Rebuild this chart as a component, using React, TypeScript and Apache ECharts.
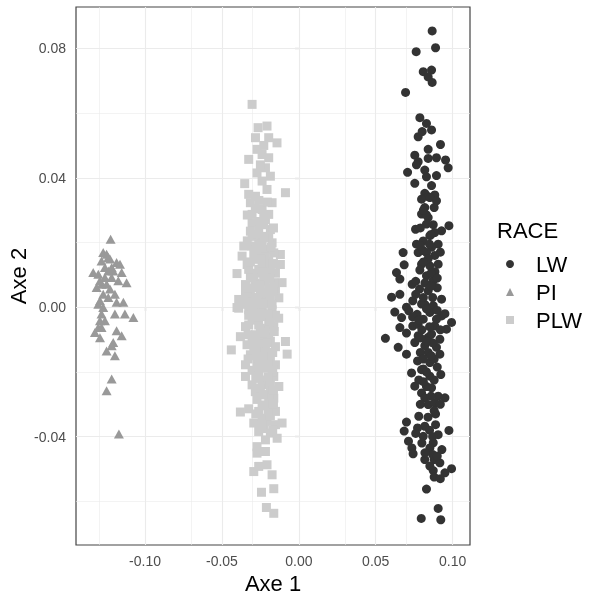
import React, { useEffect, useRef } from "react";
import * as echarts from "echarts";

const FONT = "'Liberation Sans', Arial, sans-serif";

const seriesNames = ["LW", "PI", "PLW"];
const seriesColors = ["#333333", "#999999", "#CCCCCC"];

const xTicks = [-0.1, -0.05, 0, 0.05, 0.1];
const yTicks = [-0.04, 0, 0.04, 0.08];
const xMinor = [-0.125, -0.075, -0.025, 0.025, 0.075];
const yMinor = [-0.06, -0.02, 0.02, 0.06];

const piPoints: [number, number][] = [
  [-0.1224, 0.021], [-0.1272, 0.0169], [-0.125, 0.0164], [-0.1228, 0.0149], [-0.1185, 0.0138],
  [-0.1163, 0.0133], [-0.1283, 0.0143], [-0.1337, 0.0107], [-0.1304, 0.0102], [-0.1261, 0.0123],
  [-0.1239, 0.0112], [-0.1207, 0.0112], [-0.1152, 0.0107], [-0.112, 0.0076], [-0.1174, 0.0082],
  [-0.1217, 0.0092], [-0.1283, 0.0071], [-0.1315, 0.0061], [-0.125, 0.0071], [-0.1228, 0.0056],
  [-0.1196, 0.004], [-0.1239, 0.003], [-0.1293, 0.002], [-0.1304, 0.0009], [-0.1272, -0.0001],
  [-0.1185, 0.0015], [-0.1141, 0.0015], [-0.1196, -0.0021], [-0.1131, -0.0021], [-0.1076, -0.0032],
  [-0.1283, -0.0021], [-0.1293, -0.0042], [-0.1304, -0.0063], [-0.1326, -0.0078], [-0.1293, -0.0094],
  [-0.1185, -0.0073], [-0.1152, -0.0088], [-0.1207, -0.0109], [-0.1217, -0.0119], [-0.125, -0.0135],
  [-0.1196, -0.015], [-0.1217, -0.0222], [-0.125, -0.0258], [-0.117, -0.0392], [-0.1239, 0.0154],
  [-0.1261, 0.0092], [-0.1293, 0.0082], [-0.1272, 0.004], [-0.1261, -0.0042], [-0.1283, -0.0063],
  [-0.1217, 0.0123],
];

const plwPoints: [number, number][] = [
  [-0.0304, 0.0627], [-0.0265, 0.0555], [-0.0207, 0.056], [-0.0282, 0.0524], [-0.0196, 0.0524],
  [-0.0142, 0.0508], [-0.0272, 0.0488], [-0.0239, 0.0472], [-0.0326, 0.0457], [-0.0196, 0.0462],
  [-0.0217, 0.0431], [-0.0272, 0.0415], [-0.0185, 0.0405], [-0.0352, 0.0382], [-0.0087, 0.0354],
  [-0.0326, 0.0349], [-0.0282, 0.0343], [-0.0207, 0.0364], [-0.0315, 0.0323], [-0.0174, 0.0323],
  [-0.0239, 0.0302], [-0.0304, 0.0287], [-0.0196, 0.0287], [-0.0304, 0.0261], [-0.0261, 0.0246],
  [-0.0185, 0.024], [-0.0315, 0.0235], [-0.0239, 0.0219], [-0.0358, 0.0189], [-0.0174, 0.0199],
  [-0.0304, 0.0189], [-0.0217, 0.0179], [-0.012, 0.0163], [-0.0369, 0.0158], [-0.0282, 0.0148],
  [-0.0196, 0.0143], [-0.0336, 0.0132], [-0.012, 0.0132], [-0.0402, 0.0104], [-0.0261, 0.0117],
  [-0.0174, 0.0107], [-0.0315, 0.0096], [-0.0347, 0.007], [-0.0217, 0.0081], [-0.0109, 0.0076],
  [-0.0282, 0.006], [-0.0152, 0.0055], [-0.0391, 0.0024], [-0.0304, 0.0029], [-0.0228, 0.0034],
  [-0.013, 0.0029], [-0.0347, 0.0009], [-0.0261, 0.0004], [-0.0174, 0.0009], [-0.0402, -0.0001],
  [-0.0261, 0.0184], [-0.0239, 0.0132], [-0.0196, 0.006], [-0.0304, 0.0219], [-0.0217, 0.0271],
  [-0.0261, 0.0199], [-0.0163, 0.0168], [-0.0326, 0.0117], [-0.0207, 0.0117], [-0.0315, 0.0045],
  [-0.0163, 0.0076], [-0.025, 0.0045], [-0.0217, 0.0014], [-0.0293, 0.0009],
  [-0.0391, -0.0003], [-0.0326, -0.0008], [-0.0239, -0.0003], [-0.0174, -0.0008], [-0.0304, -0.0034],
  [-0.0217, -0.0029], [-0.0131, -0.0034], [-0.0347, -0.006], [-0.0261, -0.0055], [-0.0163, -0.006],
  [-0.038, -0.0091], [-0.0283, -0.0085], [-0.0196, -0.0091], [-0.0087, -0.0106], [-0.0439, -0.0132],
  [-0.0337, -0.0116], [-0.0239, -0.0122], [-0.0152, -0.0122], [-0.0076, -0.0145], [-0.0315, -0.0147],
  [-0.0196, -0.0152], [-0.0347, -0.0178], [-0.0272, -0.0173], [-0.0152, -0.0178], [-0.0217, -0.0188],
  [-0.0347, -0.0214], [-0.0261, -0.0209], [-0.0163, -0.0214], [-0.0304, -0.024], [-0.0217, -0.024],
  [-0.013, -0.0245], [-0.0239, -0.0271], [-0.0163, -0.0281], [-0.0217, -0.0302], [-0.038, -0.0324],
  [-0.0326, -0.0314], [-0.0261, -0.0322], [-0.0152, -0.0322], [-0.0293, -0.0358], [-0.0207, -0.0353],
  [-0.0109, -0.0358], [-0.0261, -0.0384], [-0.0185, -0.0389], [-0.0141, -0.0405], [-0.0217, -0.041],
  [-0.0272, -0.0431], [-0.0217, -0.0446], [-0.0272, -0.0451], [-0.0293, -0.0508], [-0.0261, -0.0492],
  [-0.0207, -0.0487], [-0.0174, -0.0518], [-0.0243, -0.0572], [-0.0163, -0.0561], [-0.0211, -0.0619],
  [-0.0163, -0.0637], [-0.0283, -0.0019], [-0.0196, -0.0055], [-0.0239, -0.0096], [-0.0293, -0.0127],
  [-0.0174, -0.0199], [-0.0283, -0.0261], [-0.0185, -0.0261], [-0.0239, -0.0343], [-0.0152, -0.0363],
  [-0.0326, -0.0055], [-0.0261, -0.0147],
  [-0.0283, 0.0305], [-0.0228, 0.0255], [-0.0272, 0.0225], [-0.0196, 0.0215], [-0.0239, 0.0195],
  [-0.0293, 0.0165], [-0.0217, 0.0155], [-0.0185, 0.0125], [-0.0272, 0.0105], [-0.0228, 0.0095],
  [-0.0185, 0.0035], [-0.0315, 0.0015], [-0.0239, -0.0015], [-0.0272, -0.004], [-0.0185, -0.0045],
  [-0.0217, -0.007], [-0.0304, -0.0105], [-0.0185, -0.0105], [-0.0261, -0.0115], [-0.0217, -0.0135],
  [-0.0239, -0.0165], [-0.0185, -0.0165], [-0.0304, -0.0195], [-0.0239, -0.0225], [-0.0185, -0.0235],
  [-0.0272, -0.0285], [-0.0196, -0.0285], [-0.0239, -0.0305], [-0.0185, -0.0335], [-0.0228, -0.0375],
  [-0.025, -0.0065], [-0.0326, -0.0025], [-0.0152, -0.0025], [-0.0152, 0.0105], [-0.0347, 0.0045],
  [-0.0283, 0.0075], [-0.0228, 0.0275], [-0.026, 0.033], [-0.0239, 0.039], [-0.0228, 0.05],
  [-0.025, 0.044],
  [-0.0335, 0.0285], [-0.0205, 0.0325], [-0.0255, 0.0265], [-0.0165, 0.0245], [-0.0335, 0.0205],
  [-0.0225, 0.0215], [-0.0275, 0.0175], [-0.018, 0.0185], [-0.0245, 0.015], [-0.0315, 0.014],
  [-0.0165, 0.0135], [-0.0235, 0.011], [-0.0295, 0.009], [-0.019, 0.009], [-0.025, 0.007],
  [-0.033, 0.006], [-0.017, 0.005], [-0.028, 0.003], [-0.021, 0.0045], [-0.036, 0.002],
  [-0.023, 0.001], [-0.03, -0.0015], [-0.02, -0.002], [-0.0265, -0.003], [-0.016, -0.0075],
  [-0.0235, -0.008], [-0.033, -0.0085], [-0.028, -0.01], [-0.0205, -0.011], [-0.017, -0.014],
  [-0.0285, -0.015], [-0.023, -0.015], [-0.033, -0.016], [-0.02, -0.0175], [-0.026, -0.0185],
  [-0.017, -0.0195], [-0.028, -0.022], [-0.02, -0.0215], [-0.025, -0.025], [-0.0165, -0.0255],
  [-0.023, -0.027], [-0.02, -0.032], [-0.0165, -0.03], [-0.028, -0.033], [-0.024, -0.0365],
  [-0.017, -0.038],
];

const lwPoints: [number, number][] = [
  [0.0867, 0.0854], [0.0889, 0.0802], [0.0763, 0.079], [0.0809, 0.0728], [0.0863, 0.0733],
  [0.0841, 0.0712], [0.0867, 0.0695], [0.0694, 0.0664], [0.0787, 0.0586], [0.083, 0.0568],
  [0.0863, 0.0548], [0.0776, 0.0527], [0.0802, 0.0543], [0.0921, 0.0503], [0.0841, 0.0488],
  [0.0754, 0.047], [0.0776, 0.045], [0.0841, 0.046], [0.0895, 0.0462], [0.0954, 0.0455],
  [0.0971, 0.0431], [0.0707, 0.0417], [0.0765, 0.044], [0.0819, 0.0424], [0.083, 0.0403],
  [0.0895, 0.0407], [0.0754, 0.0383], [0.0863, 0.0376], [0.0819, 0.0352], [0.0884, 0.0347],
  [0.0841, 0.0342],
  [0.0798, 0.0334], [0.0852, 0.0339], [0.0895, 0.0329], [0.0819, 0.0308], [0.088, 0.0308],
  [0.0798, 0.0288], [0.0841, 0.0277], [0.083, 0.0257], [0.0759, 0.0241], [0.0976, 0.0252],
  [0.0928, 0.0236], [0.0884, 0.0231], [0.0852, 0.0221], [0.0809, 0.0205], [0.0765, 0.0195],
  [0.0906, 0.0195], [0.0863, 0.0185], [0.0678, 0.0169], [0.0776, 0.0169], [0.083, 0.0169],
  [0.0685, 0.0131], [0.0798, 0.0133], [0.0852, 0.0128], [0.0906, 0.0133], [0.0635, 0.0107],
  [0.0657, 0.0087], [0.083, 0.0097], [0.0874, 0.0082], [0.0737, 0.0071], [0.0785, 0.0056],
  [0.0603, 0.0031], [0.0657, 0.004], [0.0841, 0.0051], [0.0928, 0.0025], [0.0741, 0.002],
  [0.0798, 0.001], [0.0874, 0.0005], [0.0624, -0.0015], [0.0715, -0.0011], [0.0769, -0.0022],
  [0.0852, -0.0016], [0.0928, -0.0027], [0.0668, -0.0032], [0.0809, -0.0037], [0.0993, -0.0047],
  [0.0657, -0.0063], [0.0741, -0.0058], [0.0884, -0.0058], [0.096, -0.0068], [0.0563, -0.0096],
  [0.0776, -0.0088], [0.0841, -0.0093], [0.0917, -0.0099], [0.0754, -0.0109], [0.0646, -0.0124],
  [0.0819, -0.0119], [0.0895, -0.0124], [0.07, -0.0145], [0.0841, -0.014], [0.0917, -0.0145],
  [0.0772, -0.0166], [0.0852, -0.0171], [0.0809, -0.0191], [0.0819, 0.0009], [0.0895, -0.0037],
  [0.0776, -0.0053], [0.0863, -0.0083],
  [0.0733, -0.0203], [0.0798, -0.0193], [0.0852, -0.0213], [0.0923, -0.0208], [0.0754, -0.0244],
  [0.0863, -0.0249], [0.0798, -0.0265], [0.0819, -0.028], [0.0906, -0.0275], [0.095, -0.028],
  [0.0841, -0.0301], [0.0884, -0.0296], [0.078, -0.0337], [0.0889, -0.033], [0.07, -0.0355],
  [0.0819, -0.0368], [0.0889, -0.0363], [0.0772, -0.0373], [0.0685, -0.0383], [0.0976, -0.0381],
  [0.0809, -0.0399], [0.0906, -0.0394], [0.0713, -0.0414], [0.0874, -0.0419], [0.0852, -0.0435],
  [0.0735, -0.0435], [0.0743, -0.0453], [0.0819, -0.0471], [0.088, -0.0471], [0.0917, -0.0481],
  [0.0852, -0.0491], [0.0993, -0.0499], [0.0874, -0.0505], [0.095, -0.0512], [0.083, -0.0562],
  [0.0906, -0.0622], [0.0796, -0.0653], [0.0923, -0.0657],
  [0.083, 0.0285], [0.0874, 0.0255], [0.0809, 0.0175], [0.0884, 0.016], [0.0841, 0.015],
  [0.0787, 0.0115], [0.0885, 0.011], [0.082, 0.0075], [0.09, 0.006], [0.076, 0.004],
  [0.087, 0.003], [0.083, -0.0005], [0.074, -0.003], [0.09, -0.001], [0.085, -0.006],
  [0.08, -0.007], [0.07, -0.008], [0.087, -0.011], [0.079, -0.014], [0.088, -0.016],
  [0.083, -0.02], [0.088, -0.0225], [0.078, -0.0225], [0.083, -0.0245], [0.088, -0.032],
  [0.085, -0.038], [0.087, -0.0455], [0.09, -0.046], [0.08, -0.042], [0.076, -0.039],
  [0.092, -0.03], [0.079, -0.03], [0.085, 0.0195], [0.079, 0.0245], [0.092, 0.017],
  [0.07, 0.0], [0.095, -0.002],
  [0.081, 0.03], [0.086, 0.0225], [0.079, 0.019], [0.086, 0.0105], [0.081, 0.014],
  [0.076, 0.008], [0.09, 0.009], [0.081, 0.003], [0.086, 0.0065], [0.078, -0.004],
  [0.092, -0.007], [0.083, -0.0105], [0.079, -0.0095], [0.086, -0.015], [0.081, -0.016],
  [0.09, -0.0185], [0.081, -0.023], [0.086, -0.0275], [0.084, -0.034], [0.087, -0.04],
  [0.082, -0.045], [0.093, -0.044], [0.088, -0.0525], [0.092, -0.053],
];

export default function App() {
  const ref = useRef<HTMLDivElement>(null);
  useEffect(() => {
    if (!ref.current) return;
    const chart = echarts.init(ref.current, undefined, { renderer: "svg" });
    const gridLineData: any[] = [
      ...xTicks.map((v) => ({ xAxis: v, lineStyle: { width: 1.1 } })),
      ...xMinor.map((v) => ({ xAxis: v, lineStyle: { width: 0.6 } })),
      ...yTicks.map((v) => ({ yAxis: v, lineStyle: { width: 1.1 } })),
      ...yMinor.map((v) => ({ yAxis: v, lineStyle: { width: 0.6 } })),
    ];
    const fmt = (v: number) => (Math.abs(v) < 1e-9 ? "0.00" : v.toFixed(2));
    chart.setOption({
      animation: false,
      textStyle: { fontFamily: FONT },
      grid: {
        left: 76,
        top: 7,
        width: 394,
        height: 538,
        outerBoundsMode: "none",
        containLabel: false,
        show: true,
        borderColor: "#444444",
        borderWidth: 1.2,
        backgroundColor: "#FFFFFF",
      },
      xAxis: {
        type: "value",
        min: -0.1449,
        max: 0.1113,
        name: "Axe 1",
        nameLocation: "middle",
        nameGap: 25,
        nameTextStyle: { fontSize: 22, color: "#000000", fontFamily: FONT },
        axisLine: { show: false },
        axisTick: { show: true, length: 4, customValues: xTicks, lineStyle: { color: "#333333", width: 1.1 } },
        axisLabel: { customValues: xTicks, formatter: fmt, fontSize: 14, color: "#4D4D4D", margin: 9, fontFamily: FONT },
        splitLine: { show: false },
      },
      yAxis: {
        type: "value",
        min: -0.0735,
        max: 0.0928,
        name: "Axe 2",
        nameLocation: "middle",
        nameGap: 47,
        nameMoveOverlap: false,
        nameRotate: 90,
        nameTextStyle: { fontSize: 22, color: "#000000", fontFamily: FONT },
        axisLine: { show: false },
        axisTick: { show: true, length: 4, customValues: yTicks, lineStyle: { color: "#333333", width: 1.1 } },
        axisLabel: { customValues: yTicks, formatter: fmt, fontSize: 14, color: "#4D4D4D", margin: 10, fontFamily: FONT },
        splitLine: { show: false },
      },
      legend: {
        orient: "vertical",
        left: 506,
        top: 253,
        padding: 0,
        itemWidth: 8,
        itemHeight: 8,
        itemGap: 6,
        data: [
          { name: "LW", icon: "circle" },
          { name: "PI", icon: "triangle" },
          { name: "PLW", icon: "rect" },
        ],
        textStyle: { fontSize: 22, color: "#000000", fontFamily: FONT, lineHeight: 22, padding: [0, 0, 0, 17] },
      },
      graphic: [
        {
          type: "text",
          left: 497,
          top: 219,
          style: { text: "RACE", fontSize: 22, fill: "#000000", font: `22px ${FONT}` },
        },
      ],
      series: [
        {
          name: "gridlines",
          type: "scatter",
          data: [],
          silent: true,
          z: 1,
          markLine: {
            silent: true,
            symbol: ["none", "none"],
            label: { show: false },
            emphasis: { disabled: true },
            lineStyle: { color: "#EBEBEB", type: "solid", width: 1 },
            data: gridLineData,
            z: 1,
          },
        },
        {
          name: seriesNames[0],
          type: "scatter",
          data: lwPoints,
          symbol: "circle",
          symbolSize: 9,
          itemStyle: { color: seriesColors[0], opacity: 1 },
          z: 3,
        },
        {
          name: seriesNames[1],
          type: "scatter",
          data: piPoints,
          symbol: "triangle",
          symbolSize: [10, 9],
          itemStyle: { color: seriesColors[1], opacity: 1 },
          z: 3,
        },
        {
          name: seriesNames[2],
          type: "scatter",
          data: plwPoints,
          symbol: "rect",
          symbolSize: 9,
          itemStyle: { color: seriesColors[2], opacity: 1 },
          z: 3,
        },
      ],
    });
    return () => chart.dispose();
  }, []);
  return <div ref={ref} style={{ position: "fixed", left: 0, top: 0, width: 589, height: 595 }} />;
}
